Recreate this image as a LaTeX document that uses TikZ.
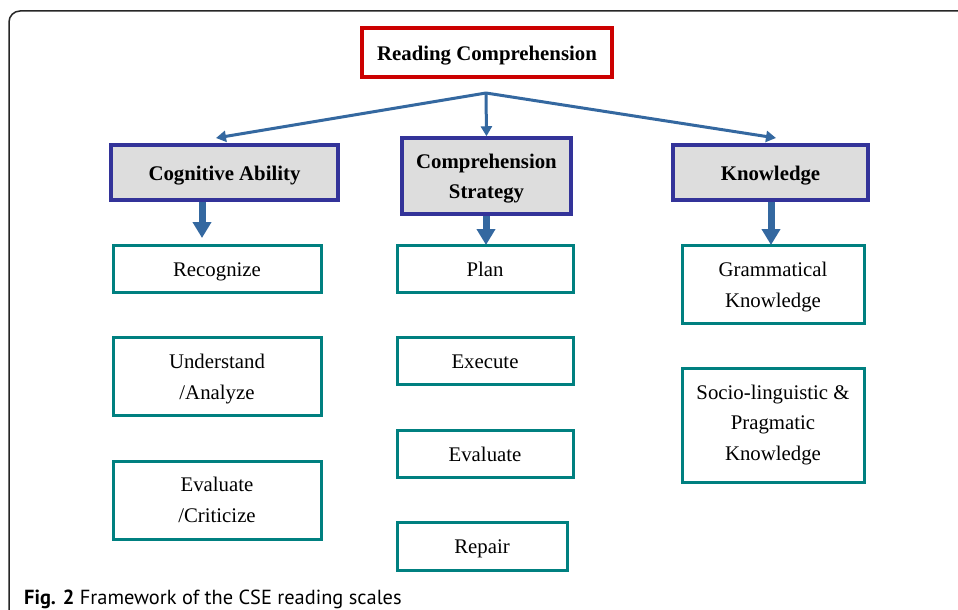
\documentclass[tikz,border=0pt]{standalone}
\usepackage{fontspec}
\setmainfont{Liberation Serif}
\newfontfamily\capfont{PT Sans}
\usetikzlibrary{arrows.meta}
\definecolor{redb}{RGB}{204,0,0}
\definecolor{navyb}{RGB}{51,51,153}
\definecolor{greyf}{RGB}{221,221,221}
\definecolor{tealb}{RGB}{0,128,128}
\definecolor{arrowb}{RGB}{52,104,160}
\newcommand{\lowerfirst}{\rule{0pt}{20pt}}
\tikzset{
  boxtext/.style={font=\fontsize{20.8}{30.5}\selectfont, align=center, text=black, inner sep=0pt},
  oneline/.style={text height=19.5pt, text depth=4.5pt},
  rootbox/.style={boxtext, draw=redb, line width=4pt, fill=white, font=\fontsize{20.8}{30.5}\selectfont\bfseries},
  catbox/.style={boxtext, draw=navyb, line width=3.5pt, fill=greyf, font=\fontsize{20.8}{30.5}\selectfont\bfseries},
  leafbox/.style={boxtext, draw=tealb, line width=3pt, fill=white},
  thinarrow/.style={draw=arrowb, line width=3pt, -{Triangle[width=11pt,length=10pt]}},
  thickarrow/.style={draw=arrowb, line width=7pt, -{Triangle[width=18pt,length=16pt]}},
  frameline/.style={draw=black!85, line width=1.5pt, rounded corners=11pt}
}
\begin{document}
\begin{tikzpicture}[x=1pt,y=-1pt]
\useasboundingbox (0,0) rectangle (958,610);
\fill[white] (0,0) rectangle (958,610);
\draw[frameline] (970,11) -- (9,11) -- (9,625);

\node[rootbox, oneline, minimum width=250pt, minimum height=49pt] (root) at (487,52.5) {Reading Comprehension};

\node[catbox, oneline, minimum width=227pt, minimum height=55pt] (cog) at (224.5,172.5) {Cognitive Ability};
\node[catbox, minimum width=169pt, minimum height=76pt] (cs) at (486.5,176) {\lowerfirst Comprehension\\Strategy};
\node[catbox, oneline, minimum width=195pt, minimum height=55pt] (kn) at (770.5,172.5) {Knowledge};

\node[leafbox, oneline, minimum width=208pt, minimum height=47pt] (rec) at (217,268.5) {Recognize};
\node[leafbox, minimum width=208pt, minimum height=78pt] (und) at (217,376) {\lowerfirst Understand\\/Analyze};
\node[leafbox, minimum width=208pt, minimum height=78pt] (evc) at (217,500) {Evaluate\\/Criticize};

\node[leafbox, oneline, minimum width=176pt, minimum height=47pt] (plan) at (485,268.5) {Plan};
\node[leafbox, oneline, minimum width=176pt, minimum height=47pt] (exe) at (485,360.5) {Execute};
\node[leafbox, oneline, minimum width=176pt, minimum height=47pt] (eva) at (485,453.5) {Evaluate};
\node[leafbox, oneline, minimum width=170pt, minimum height=48pt] (rep) at (482,546) {Repair};

\node[leafbox, minimum width=182pt, minimum height=78pt] (gram) at (773,284) {\lowerfirst Grammatical\\Knowledge};
\node[leafbox, minimum width=182pt, minimum height=114pt] (socio) at (773,425) {Socio-linguistic \&\\Pragmatic\\Knowledge};

\coordinate (j) at (486,93);
\coordinate (tl) at (216,138);
\coordinate (tr) at (776,138);
\draw[thinarrow] (j) -- (tl);
\draw[thinarrow] (j) -- (cs.north);
\draw[thinarrow] (j) -- (tr);

\coordinate (d1) at (202,238);
\coordinate (d2) at (486,245);
\coordinate (d3) at (771,245);
\draw[thickarrow] (cog.south -| d1) -- (d1);
\draw[thickarrow] (cs.south -| d2) -- (d2);
\draw[thickarrow] (kn.south -| d3) -- (d3);

\node[anchor=base west, inner sep=0pt, font=\capfont\fontsize{20.4}{24}\selectfont] (cap) at (24,604) {\textbf{Fig. 2} Framework of the CSE reading scales};
\end{tikzpicture}
\end{document}
